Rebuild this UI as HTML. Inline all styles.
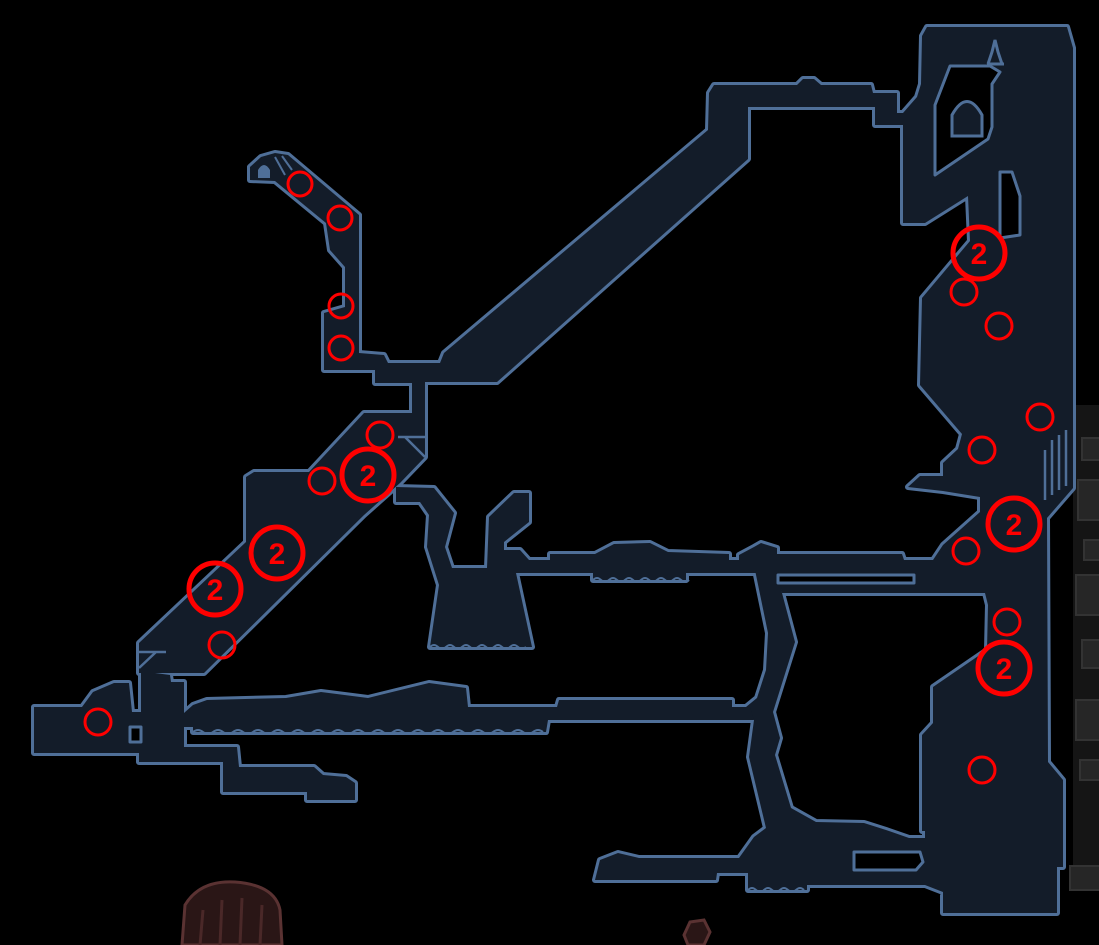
<!DOCTYPE html>
<html><head><meta charset="utf-8"><style>
html,body{margin:0;padding:0;background:#000;}
svg{display:block}
</style></head><body>
<svg width="1099" height="945" viewBox="0 0 1099 945" xmlns="http://www.w3.org/2000/svg">
<rect width="1099" height="945" fill="#000"/>
<!-- faded right-side area -->
<rect x="1073" y="405" width="26" height="485" fill="#151515"/>
<g fill="#262626" stroke="#333" stroke-width="2">
<rect x="1082" y="438" width="20" height="22"/>
<rect x="1078" y="480" width="24" height="40"/>
<rect x="1084" y="540" width="18" height="20"/>
<rect x="1076" y="575" width="26" height="40"/>
<rect x="1082" y="640" width="20" height="28"/>
<rect x="1076" y="700" width="26" height="40"/>
<rect x="1080" y="760" width="22" height="20"/>
<rect x="1070" y="866" width="32" height="24"/>
</g>
<defs>
<g id="m">
<polygon points="250,180 250,167 261,157 275,153 288,155 359,215 359,353 384,355 388,363 440,363 444,353 708,130 709,93 714,85 797,85 803,79 814,79 821,85 871,85 873,93 897,93 897,113 910,113 910,125 875,125 875,107 748,107 748,159 497,382 424,382 424,395 412,395 412,383 375,383 375,370 324,370 324,313 345,307 345,267 330,250 326,223 275,181"/>
<polygon points="412,380 425,380 425,457 400,483 364,515 204,673 155,673 155,682 141,682 141,673 139,673 139,643 246,542 246,477 254,472 309,472 364,413 412,413"/>
<polygon points="396,487 434,488 454,513 445,547 452,568 487,568 489,517 514,493 529,493 529,522 504,542 504,550 520,550 529,560 550,560 550,554 595,554 614,544 650,543 668,552 729,554 729,560 739,560 739,555 754,547 761,543 777,548 777,554 902,554 904,560 934,560 955,535 955,593 782,593 777,573 755,573 686,573 686,580 593,580 593,573 516,573 532,647 430,647 439,585 427,547 429,515 420,502 396,502"/>
<polygon points="755,570 778,570 782,593 795,642 773,712 780,738 775,755 791,808 816,822 864,823 886,830 909,838 925,838 925,885 807,885 807,890 748,890 748,873 717,873 716,880 595,880 600,860 618,853 639,858 739,858 754,837 766,828 749,757 754,720 746,707 757,698 766,670 768,633"/>
<polygon points="184,713 193,705 207,700 286,698 321,692 368,698 429,683 466,688 468,707 557,707 559,700 732,700 732,707 750,707 754,720 548,720 546,732 193,732 193,727 184,727"/>
<polygon points="34,707 82,707 93,692 114,683 129,683 132,712 141,712 141,682 155,682 155,673 170,675 171,682 184,682 184,747 237,747 239,767 314,767 323,775 346,777 355,783 355,800 307,800 307,792 223,792 223,762 139,762 139,753 34,753"/>
<polygon points="922,36 927,27 1067,27 1073,48 1073,488 1047,518 1048,762 1063,780 1063,867 1057,867 1057,913 943,913 943,892 925,885 925,831 922,831 922,735 933,723 933,687 987,650 988,605 985,593 955,593 955,560 933,560 943,545 980,512 980,497 943,491 908,487 920,476 943,476 943,463 958,449 962,434 920,385 922,298 970,241 968,196 925,223 903,223 903,113 917,97 921,84"/>
</g>
</defs>
<use href="#m" fill="#4f6f98" stroke="#4f6f98" stroke-width="6" stroke-linejoin="round"/>
<use href="#m" fill="#131c29"/>
<!-- holes -->
<g fill="#000" stroke="#4f6f98" stroke-width="3" stroke-linejoin="round">
<polygon points="935,105 950,66 990,66 1000,72 992,84 992,127 988,139 935,175"/>
<polygon points="1000,172 1012,172 1020,196 1020,235 1000,238"/>
<rect x="778" y="575" width="136" height="8"/>
<rect x="130" y="727" width="11" height="15"/>
<path d="M854,852 L920,852 L923,862 L916,870 L854,870 Z"/>
</g>
<!-- arch and spire -->
<path d="M952,136 L952,115 Q967,88 982,115 L982,136 Z" fill="#131c29" stroke="#4f6f98" stroke-width="3"/>
<path d="M988,64 L992,52 L995,40 L998,52 L1002,64 M987,64 L1004,64" fill="none" stroke="#4f6f98" stroke-width="3"/>
<!-- hook end icon -->
<path d="M258,178 L258,170 Q264,160 270,170 L270,178 Z" fill="#4f6f98"/>
<path d="M275,157 L285,175 M282,156 L292,170" stroke="#4f6f98" stroke-width="2"/>
<!-- small diagonal marks -->
<g stroke="#4f6f98" stroke-width="2.5" fill="none">
<path d="M398,437 L425,437 M405,437 L425,457"/>
<path d="M139,652 L166,652 M156,652 L139,668"/>
<path d="M1045,500 L1045,450 M1052,495 L1052,440 M1059,490 L1059,435 M1066,486 L1066,430"/>
</g>
<!-- wavy edges -->
<g stroke="#4f6f98" stroke-width="2" fill="none">
<path d="M430,647 q4,-4 8,0 t8,0 t8,0 t8,0 t8,0 t8,0 t8,0 t8,0 t8,0 t8,0 t8,0 t8,0"/>
<path d="M193,732 q5,-4 10,0 t10,0 t10,0 t10,0 t10,0 t10,0 t10,0 t10,0 t10,0 t10,0 t10,0 t10,0 t10,0 t10,0 t10,0 t10,0 t10,0 t10,0 t10,0 t10,0 t10,0 t10,0 t10,0 t10,0 t10,0 t10,0 t10,0 t10,0 t10,0 t10,0 t10,0 t10,0 t10,0 t10,0 t10,0"/>
<path d="M593,580 q4,-4 8,0 t8,0 t8,0 t8,0 t8,0 t8,0 t8,0 t8,0 t8,0 t8,0 t8,0 t8,0"/>
<path d="M748,890 q4,-4 8,0 t8,0 t8,0 t8,0 t8,0 t8,0 t8,0"/>
</g>
<!-- bottom decorations -->
<path d="M182,945 L185,905 Q200,880 235,882 Q275,885 280,910 L282,945 Z" fill="#2a1616" stroke="#5a3232" stroke-width="3"/>
<path d="M200,945 L203,910 M220,945 L222,900 M240,945 L242,898 M260,945 L262,905" stroke="#4a2828" stroke-width="3"/>
<path d="M684,935 L690,922 L704,920 L710,932 L704,945 L688,945 Z" fill="#2a1616" stroke="#5a3232" stroke-width="3"/>
<!-- markers -->
<g fill="none" stroke="#ff0000" stroke-width="3">
<circle cx="300" cy="184" r="12"/>
<circle cx="340" cy="218" r="12"/>
<circle cx="341" cy="306" r="12"/>
<circle cx="341" cy="348" r="12"/>
<circle cx="380" cy="435" r="13"/>
<circle cx="322" cy="481" r="13"/>
<circle cx="222" cy="645" r="13"/>
<circle cx="98" cy="722" r="13"/>
<circle cx="964" cy="292" r="13"/>
<circle cx="999" cy="326" r="13"/>
<circle cx="1040" cy="417" r="13"/>
<circle cx="982" cy="450" r="13"/>
<circle cx="966" cy="551" r="13"/>
<circle cx="1007" cy="622" r="13"/>
<circle cx="982" cy="770" r="13"/>
</g>
<g fill="none" stroke="#ff0000" stroke-width="5">
<circle cx="979" cy="253" r="26"/>
<circle cx="368" cy="475" r="26"/>
<circle cx="277" cy="553" r="26"/>
<circle cx="215" cy="589" r="26"/>
<circle cx="1014" cy="524" r="26"/>
<circle cx="1004" cy="668" r="26"/>
</g>
<g fill="#ff0000" font-family="Liberation Sans, sans-serif" font-weight="bold" font-size="30" text-anchor="middle">
<text x="979" y="264">2</text>
<text x="368" y="486">2</text>
<text x="277" y="564">2</text>
<text x="215" y="600">2</text>
<text x="1014" y="535">2</text>
<text x="1004" y="679">2</text>
</g>
</svg>
</body></html>
